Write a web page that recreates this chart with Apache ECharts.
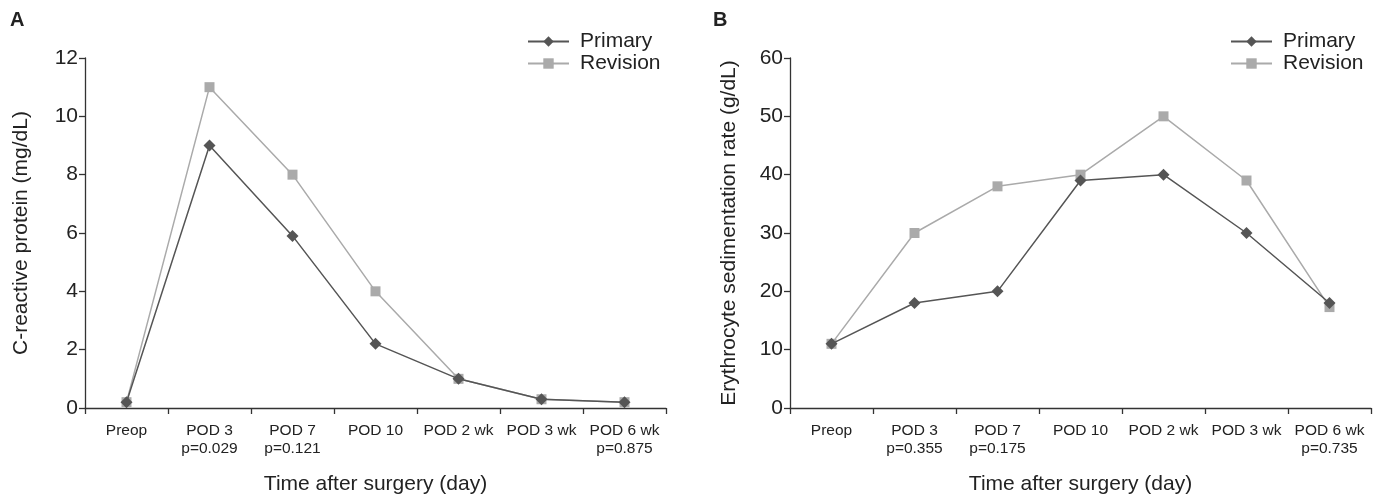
<!DOCTYPE html>
<html><head><meta charset="utf-8">
<script src="https://cdn.jsdelivr.net/npm/echarts@6/dist/echarts.min.js"></script>
<style>html,body{margin:0;padding:0;background:#fff}#c{width:1378px;height:503px}</style>
</head><body><div id="c"></div>
<script>
const categoriesA = ['Preop','POD 3\np=0.029','POD 7\np=0.121','POD 10','POD 2 wk','POD 3 wk','POD 6 wk\np=0.875'];
const categoriesB = ['Preop','POD 3\np=0.355','POD 7\np=0.175','POD 10','POD 2 wk','POD 3 wk','POD 6 wk\np=0.735'];
const crpPrimary  = [0.2, 9.0, 5.9, 2.2, 1.0, 0.3, 0.2];
const crpRevision = [0.2, 11.0, 8.0, 4.0, 1.0, 0.3, 0.2];
const esrPrimary  = [11, 18, 20, 39, 40, 30, 18];
const esrRevision = [11, 30, 38, 40, 50, 39, 17.3];

const darkC = '#555555', lightC = '#aaaaaa', axisC = '#333333';
const font = 'Liberation Sans, Arial, sans-serif';

function xAxis(grid, cats){
  return {type:'category', gridIndex:grid, data:cats, boundaryGap:true,
    axisLine:{lineStyle:{color:axisC,width:1.3}},
    axisTick:{show:true,length:6,lineStyle:{color:axisC,width:1.3}},
    axisLabel:{color:'#222',fontSize:15.5,fontFamily:font,lineHeight:18,margin:14,interval:0},
    name:'Time after surgery (day)', nameLocation:'middle', nameGap:66,
    nameTextStyle:{color:'#222',fontSize:21,fontFamily:font}};
}
function yAxis(grid, max, interval, name, gap){
  return {type:'value', gridIndex:grid, min:0, max:max, interval:interval,
    axisLine:{show:true,lineStyle:{color:axisC,width:1.3}},
    axisTick:{show:true,length:6,lineStyle:{color:axisC,width:1.3}},
    splitLine:{show:false},
    axisLabel:{color:'#222',fontSize:21,fontFamily:font,margin:7},
    name:name, nameLocation:'middle', nameGap:gap,
    nameTextStyle:{color:'#222',fontSize:21,fontFamily:font}};
}
function ser(name, data, xi, yi, sym, color, size){
  return {name:name, type:'line', xAxisIndex:xi, yAxisIndex:yi, data:data,
    symbol:sym, symbolSize:size, showSymbol:true,
    lineStyle:{color:color,width:1.5}, itemStyle:{color:color}, z: name==='Primary'?3:2};
}
const legendText = {fontSize:21,fontFamily:font,color:'#222',padding:[0,0,0,6]};
const chart = echarts.init(document.getElementById('c'));
chart.setOption({
  animation:false,
  grid:[{left:85,width:581,top:58,bottom:95},{left:790,width:581,top:58,bottom:95}],
  xAxis:[xAxis(0,categoriesA), xAxis(1,categoriesB)],
  yAxis:[yAxis(0,12,2,'C-reactive protein (mg/dL)',53), yAxis(1,60,10,'Erythrocyte sedimentation rate (g/dL)',50)],
  legend:[
    {data:['Primary','Revision'], orient:'vertical', left:527, top:31, itemWidth:41, itemHeight:13, itemGap:1,
     padding:0, textStyle:legendText},
    {data:['Primary','Revision'], orient:'vertical', left:1230, top:31, itemWidth:41, itemHeight:13, itemGap:1,
     padding:0, textStyle:legendText}
  ],
  graphic:[
    {type:'text', left:10, top:10, style:{text:'A', font:'bold 20px '+font, fill:'#222'}},
    {type:'text', left:713, top:10, style:{text:'B', font:'bold 20px '+font, fill:'#222'}}
  ],
  series:[
    ser('Revision', crpRevision, 0,0,'rect',lightC,10),
    ser('Primary', crpPrimary, 0,0,'diamond',darkC,12),
    ser('Revision', esrRevision, 1,1,'rect',lightC,10),
    ser('Primary', esrPrimary, 1,1,'diamond',darkC,12)
  ]
});
</script></body></html>
